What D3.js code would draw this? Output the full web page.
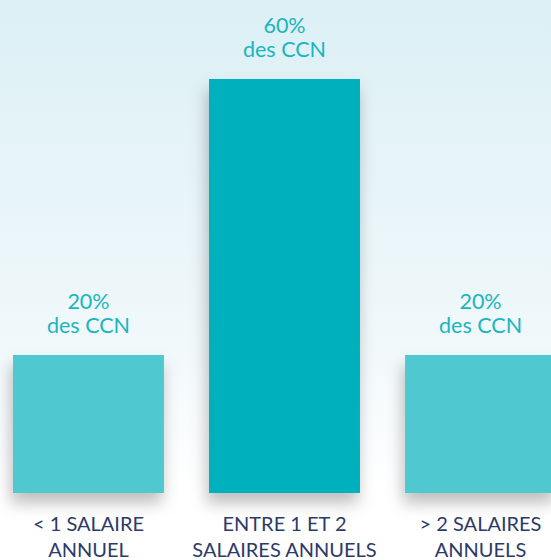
<!DOCTYPE html>
<html>
<head>
<meta charset="utf-8">
<script src="https://cdn.jsdelivr.net/npm/d3@7"></script>
<style>
  html, body { margin: 0; padding: 0; overflow: hidden; background: #fff; }
  svg { display: block; }
</style>
</head>
<body>
<div id="chart"></div>
<script>
const width = 551;
const height = 560;

// data
const categories = ["lt1", "1to2", "gt2"];
const values = [20, 60, 20];
const valueLabels = ["20%", "60%", "20%"];
const valueSub = "des CCN";
const catLines = [
    ["< 1 SALAIRE", "ANNUEL"],
    ["ENTRE 1 ET 2", "SALAIRES ANNUELS"],
    ["> 2 SALAIRES", "ANNUELS"]
];
const barColors = ["#4fc8d0", "#00b1bd", "#4fc8d0"];

const svg = d3.select("#chart").append("svg")
    .attr("width", width)
    .attr("height", height);

const defs = svg.append("defs");

const grad = defs.append("linearGradient")
    .attr("id", "bg")
    .attr("x1", 0).attr("y1", 0).attr("x2", 0).attr("y2", 1);
grad.append("stop").attr("offset", "0%").attr("stop-color", "#dcf0f5");
grad.append("stop").attr("offset", "55%").attr("stop-color", "#eef7fa");
grad.append("stop").attr("offset", "88%").attr("stop-color", "#ffffff");

const shadow = defs.append("filter")
    .attr("id", "shadow")
    .attr("x", "-30%").attr("y", "-30%")
    .attr("width", "160%").attr("height", "160%");
shadow.append("feDropShadow")
    .attr("dx", -2).attr("dy", 10)
    .attr("stdDeviation", 8)
    .attr("flood-color", "#000")
    .attr("flood-opacity", 0.26);

svg.append("rect")
    .attr("width", width)
    .attr("height", height)
    .attr("fill", "url(#bg)");

const x = d3.scaleBand()
    .domain(categories)
    .range([13, 556])
    .paddingInner(0.23)
    .paddingOuter(0);

const y = d3.scaleLinear()
    .domain([0, 60])
    .range([493, 79]);

const font = "Lato, 'Open Sans', sans-serif";

svg.append("g")
    .selectAll("rect")
    .data(values)
    .join("rect")
    .attr("x", (d, i) => x(categories[i]))
    .attr("y", d => y(d))
    .attr("width", x.bandwidth())
    .attr("height", d => y(0) - y(d))
    .attr("fill", (d, i) => barColors[i])
    .attr("filter", "url(#shadow)");

// value labels above the bars
const vl = svg.append("g")
    .attr("text-anchor", "middle")
    .attr("fill", "#1ab5c0")
    .style("font-family", font)
    .style("font-size", "21.5px");

vl.selectAll("text.pct")
    .data(values)
    .join("text")
    .attr("class", "pct")
    .attr("x", (d, i) => x(categories[i]) + x.bandwidth() / 2)
    .attr("y", d => y(d) - 46)
    .text((d, i) => valueLabels[i]);

vl.selectAll("text.sub")
    .data(values)
    .join("text")
    .attr("class", "sub")
    .attr("x", (d, i) => x(categories[i]) + x.bandwidth() / 2)
    .attr("y", d => y(d) - 22)
    .text(valueSub);

// category labels below
const cl = svg.append("g")
    .attr("text-anchor", "middle")
    .attr("fill", "#2c3a69")
    .style("font-family", font)
    .style("font-size", "20px");

cl.selectAll("text")
    .data(categories)
    .join("text")
    .attr("x", d => x(d) + x.bandwidth() / 2)
    .attr("y", 531)
    .each(function(d, i) {
        const t = d3.select(this);
        catLines[i].forEach((line, j) => {
            t.append("tspan")
                .attr("x", x(d) + x.bandwidth() / 2)
                .attr("dy", j === 0 ? 0 : 26)
                .text(line);
        });
    });
</script>
</body>
</html>
